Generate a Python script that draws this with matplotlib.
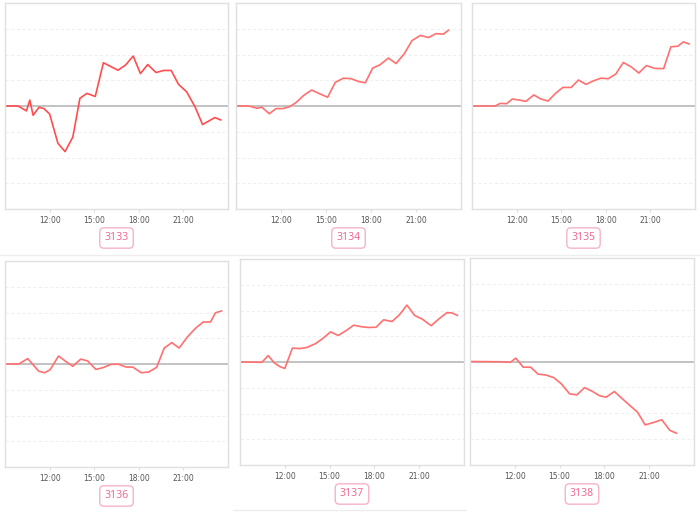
import matplotlib.pyplot as plt
from matplotlib.lines import Line2D

# hours of day and change values
t3133 = [9.0, 9.89, 10.44, 10.67, 10.89, 11.29, 11.62, 12.0, 12.56, 13.04, 13.56, 14.04,
         14.51, 15.07, 15.62, 16.6, 17.11, 17.62, 18.11, 18.6, 19.16, 19.67, 20.18, 20.67,
         21.22, 21.78, 22.29, 23.11, 23.51]
v3133 = [0, 0, -0.19, 0.23, -0.36, -0.05, -0.10, -0.31, -1.45, -1.77, -1.21, 0.30,
         0.49, 0.37, 1.68, 1.39, 1.59, 1.94, 1.26, 1.61, 1.30, 1.38, 1.38, 0.84,
         0.55, -0.03, -0.72, -0.45, -0.54]

t3134 = [9.0, 9.84, 10.44, 10.71, 11.22, 11.67, 12.11, 12.56, 13.0, 13.51, 14.04, 14.56,
         15.11, 15.62, 16.16, 16.67, 17.18, 17.62, 18.11, 18.6, 19.16, 19.67, 20.22, 20.73,
         21.29, 21.84, 22.33, 22.82, 23.16]
v3134 = [0, 0, -0.09, -0.04, -0.30, -0.10, -0.10, -0.03, 0.13, 0.41, 0.62, 0.48,
         0.34, 0.92, 1.08, 1.06, 0.95, 0.90, 1.47, 1.60, 1.86, 1.65, 2.03, 2.54,
         2.74, 2.66, 2.81, 2.79, 2.94]

t3135 = [9.0, 10.56, 10.89, 11.33, 11.71, 12.18, 12.62, 13.16, 13.6, 14.11, 14.62, 15.11,
         15.67, 16.16, 16.67, 17.18, 17.67, 18.16, 18.67, 19.18, 19.71, 20.22, 20.73, 21.29,
         21.89, 22.38, 22.84, 23.22, 23.6]
v3135 = [0, 0, 0.10, 0.09, 0.27, 0.23, 0.18, 0.43, 0.28, 0.19, 0.49, 0.72,
         0.72, 1.01, 0.84, 0.98, 1.08, 1.06, 1.24, 1.69, 1.52, 1.28, 1.57, 1.46,
         1.45, 2.30, 2.32, 2.49, 2.41]

t3136 = [9.0, 9.93, 10.53, 11.27, 11.67, 12.04, 12.6, 13.09, 13.56, 14.09, 14.56, 15.11,
         15.6, 16.16, 16.64, 17.16, 17.6, 18.16, 18.67, 19.2, 19.71, 20.22, 20.71, 21.27,
         21.82, 22.33, 22.82, 23.16, 23.56]
v3136 = [0, 0, 0.21, -0.28, -0.34, -0.22, 0.31, 0.10, -0.09, 0.19, 0.12, -0.21,
         -0.14, -0.01, -0.01, -0.12, -0.12, -0.34, -0.31, -0.13, 0.62, 0.83, 0.62, 1.05,
         1.39, 1.63, 1.63, 1.99, 2.06]

t3137 = [9.0, 10.47, 10.89, 11.29, 11.67, 12.0, 12.51, 13.02, 13.51, 14.07, 14.56, 15.07,
         15.58, 16.13, 16.62, 17.13, 17.62, 18.11, 18.62, 19.18, 19.67, 20.18, 20.69, 21.22,
         21.8, 22.33, 22.84, 23.18, 23.56]
v3137 = [0, -0.01, 0.25, -0.03, -0.18, -0.25, 0.54, 0.52, 0.57, 0.72, 0.92, 1.17,
         1.03, 1.23, 1.43, 1.37, 1.34, 1.35, 1.64, 1.57, 1.83, 2.21, 1.81, 1.66,
         1.41, 1.68, 1.91, 1.91, 1.81]

t3138 = [9.0, 10.98, 11.71, 12.07, 12.56, 13.07, 13.56, 14.07, 14.6, 15.11, 15.67, 16.16,
         16.67, 17.18, 17.67, 18.11, 18.67, 19.18, 19.67, 20.22, 20.73, 21.27, 21.84, 22.38,
         22.82]
v3138 = [0, -0.01, -0.03, 0.13, -0.22, -0.22, -0.49, -0.52, -0.62, -0.86, -1.25, -1.29,
         -1.01, -1.15, -1.32, -1.38, -1.16, -1.43, -1.68, -1.96, -2.45, -2.36, -2.25, -2.66,
         -2.77]

names = ['3133', '3134', '3135', '3136', '3137', '3138']
times = [t3133, t3134, t3135, t3136, t3137, t3138]
values = [v3133, v3134, v3135, v3136, v3137, v3138]
line_colors = ['#ff4d4f', '#ff7070', '#ff7070', '#ff7070', '#ff7070', '#ff7070']

xticks = [12, 15, 18, 21]
xticklabels = ['12:00', '15:00', '18:00', '21:00']

W, H = 700, 512
# axes boxes in pixels: left, top, right, bottom
boxes = [(5, 3, 228, 209), (236, 3, 461, 209), (472, 3, 695, 209),
         (5, 261, 228, 467), (240, 259, 464, 465), (470, 258, 694, 465)]

fig = plt.figure(figsize=(7, 5.12), dpi=100)

for i, (l, t, r, b) in enumerate(boxes):
    ax = fig.add_axes([l / W, (H - b) / H, (r - l) / W, (b - t) / H])
    for yg in [-3, -2, -1, 1, 2, 3]:
        ax.axhline(yg, color='#f0f0f0', lw=0.8, ls=(0, (3, 2)), zorder=0)
    ax.axhline(0, color='#bdbdbd', lw=1.3, zorder=1)
    ax.plot(times[i], values[i], color=line_colors[i], lw=1.2, zorder=2)
    ax.set_xlim(9, 24)
    ax.set_ylim(-4, 4)
    ax.set_yticks([])
    ax.set_xticks(xticks)
    ax.set_xticklabels(xticklabels, fontsize=5.5, color='#555555')
    ax.tick_params(axis='x', length=2, color='#dddddd', pad=3)
    for s in ax.spines.values():
        s.set_color('#e0e0e0')
        s.set_linewidth(1)
    ax.text(0.5, -29 / (b - t), names[i], transform=ax.transAxes,
            ha='center', va='center', fontsize=7.5, color='#f06a94',
            family='Noto Sans',
            bbox=dict(boxstyle='round,pad=0.45,rounding_size=0.4',
                      fc='white', ec='#f7b3c8', lw=1))

# faint card borders
fig.add_artist(Line2D([0, 1], [(H - 255) / H] * 2, color='#eeeeee', lw=1))
fig.add_artist(Line2D([233 / W, 466 / W], [(H - 510) / H] * 2, color='#eeeeee', lw=1))

fig.savefig('out.png', dpi=100, facecolor='white')
